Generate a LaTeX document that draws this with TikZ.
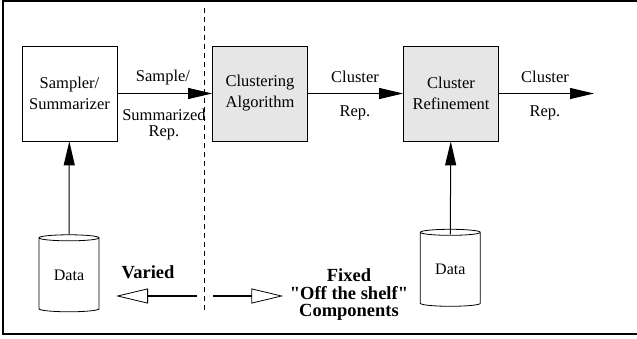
\documentclass[tikz,border=0pt]{standalone}
\usepackage{fontspec}
\setmainfont{Liberation Serif}
\usetikzlibrary{arrows.meta,shapes.geometric}
\definecolor{box_grey}{RGB}{230, 230, 230}
\tikzstyle{bx}=[rectangle,draw=black,line width=0.8pt,inner sep=0pt,
  minimum width=95pt,minimum height=95pt,align=center,font=\fontsize{16.5}{21}\selectfont]
\tikzstyle{gbx}=[bx,fill=box_grey]
\tikzstyle{db}=[cylinder,shape border rotate=90,draw=black,line width=0.8pt,inner sep=0pt,
  aspect=0.2,minimum width=60pt,minimum height=77pt,font=\fontsize{16}{20}\selectfont]
\tikzstyle{lbl}=[inner sep=0pt,font=\fontsize{16.5}{20}\selectfont]
\tikzstyle{blbl}=[inner sep=0pt,align=center,font=\bfseries\fontsize{18.5}{17.5}\selectfont]
\tikzstyle{flow}=[line width=1pt,-{Triangle[length=24pt,width=11pt]}]
\tikzstyle{side}=[line width=2pt,-{Triangle[open,length=32pt,width=15pt,line width=0.8pt]}]
\tikzstyle{none}=[]

\begin{document}
\begin{tikzpicture}[x=1pt,y=-1pt]
            \useasboundingbox (0,0) rectangle (637,339);
            \draw [line width=1.5pt] (637,0.8) -- (3,0.8) -- (3,334) -- (637,334);
            \node [style=bx] (0) at (69.5, 93.5) {Sampler/\\Summarizer};
            \node [style=gbx] (1) at (260, 93.5) {Clustering\\Algorithm};
            \node [style=gbx] (2) at (451, 93.5) {Cluster\\Refinement};
            \node [style=db] (3) at (69, 275) {Data};
            \node [style=db] (4) at (450.3, 269.5) {Data};
            \coordinate (5) at (594, 93.5);
            \coordinate (6) at (204, 8);
            \coordinate (7) at (204, 310);
            \coordinate (8) at (196.7, 296);
            \coordinate (9) at (116, 296);
            \coordinate (10) at (212.7, 296);
            \coordinate (11) at (283.3, 296);
            \node [style=lbl] (12) at (163, 78) {Sample/};
            \node [style=lbl] (13) at (164, 115) {Summarized};
            \node [style=lbl] (14) at (164, 133) {Rep.};
            \node [style=lbl] (15) at (355, 77) {Cluster};
            \node [style=lbl] (16) at (355, 113) {Rep.};
            \node [style=lbl] (17) at (545, 77) {Cluster};
            \node [style=lbl] (18) at (545, 113) {Rep.};
            \node [style=blbl] (19) at (148, 272) {Varied};
            \node [style=blbl] (20) at (349, 295) {Fixed\\\textquotedbl Off the shelf\textquotedbl\\Components};
            \draw [style=flow] (0) to (1);
            \draw [style=flow] (1) to (2);
            \draw [style=flow] (2) to (5);
            \draw [style=flow] (3.top) to (0);
            \draw [style=flow] ([yshift=-5.5pt]4.top) to (2);
            \draw [line width=0.8pt,dash pattern=on 5pt off 4pt] (6) to (7);
            \draw [style=side] (8) to (9);
            \draw [style=side] (10) to (11);
\end{tikzpicture}
\end{document}
